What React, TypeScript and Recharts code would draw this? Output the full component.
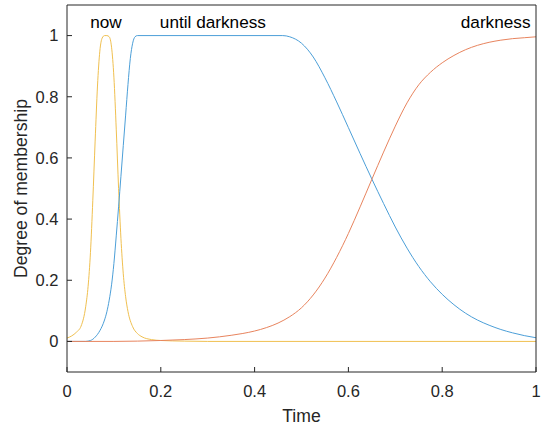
import { Label, Line, LineChart, ReferenceDot, XAxis, YAxis } from "recharts";

// membership functions
const nowX = [0, 0.01, 0.02, 0.03, 0.04, 0.045, 0.05, 0.055, 0.06, 0.065, 0.07, 0.075, 0.08, 0.085, 0.09, 0.095, 0.1, 0.105, 0.11, 0.115, 0.12, 0.125, 0.13, 0.14, 0.15, 0.16, 0.18, 0.2, 0.25, 0.3, 1];
const nowV = [0.011, 0.018, 0.03, 0.05, 0.115, 0.18, 0.29, 0.46, 0.655, 0.835, 0.949, 0.992, 1, 1, 0.996, 0.962, 0.864, 0.694, 0.5, 0.337, 0.221, 0.146, 0.098, 0.048, 0.026, 0.015, 0.006, 0.003, 0.001, 0, 0];

const untilX = [0, 0.04, 0.045, 0.05, 0.055, 0.06, 0.065, 0.07, 0.075, 0.08, 0.085, 0.09, 0.095, 0.1, 0.105, 0.11, 0.115, 0.12, 0.125, 0.13, 0.135, 0.14, 0.145, 0.15, 0.46, 0.475, 0.5, 0.525, 0.55, 0.575, 0.6, 0.625, 0.65, 0.675, 0.7, 0.725, 0.75, 0.775, 0.8, 0.825, 0.85, 0.875, 0.9, 0.925, 0.95, 0.975, 1];
const untilV = [0, 0, 0.001, 0.003, 0.007, 0.014, 0.023, 0.035, 0.05, 0.07, 0.097, 0.135, 0.185, 0.255, 0.345, 0.44, 0.54, 0.64, 0.74, 0.84, 0.925, 0.975, 0.996, 1, 1, 0.996, 0.975, 0.93, 0.862, 0.783, 0.699, 0.614, 0.531, 0.451, 0.374, 0.305, 0.245, 0.195, 0.154, 0.12, 0.092, 0.07, 0.053, 0.039, 0.028, 0.019, 0.012];

const darkX = [0, 0.1, 0.15, 0.2, 0.25, 0.3, 0.325, 0.35, 0.375, 0.4, 0.425, 0.45, 0.475, 0.5, 0.525, 0.55, 0.575, 0.6, 0.625, 0.65, 0.675, 0.7, 0.725, 0.75, 0.775, 0.8, 0.825, 0.85, 0.875, 0.9, 0.925, 0.95, 0.975, 1];
const darkV = [0, 0, 0.001, 0.003, 0.006, 0.011, 0.015, 0.02, 0.026, 0.034, 0.045, 0.06, 0.081, 0.11, 0.152, 0.207, 0.275, 0.353, 0.44, 0.53, 0.619, 0.704, 0.78, 0.839, 0.88, 0.911, 0.935, 0.954, 0.968, 0.978, 0.985, 0.99, 0.993, 0.996];

const mfNames = ["now", "until darkness", "darkness"];
const mfLabelX = [0.083, 0.311, 0.914];
const mfLabelY = 1.045;

const xTicks = [0, 0.2, 0.4, 0.6, 0.8, 1];
const yTicks = [0, 0.2, 0.4, 0.6, 0.8, 1];

const toRows = (xs: number[], vs: number[]) => xs.map((x, i) => ({ x, v: vs[i] }));

const nowData = toRows(nowX, nowV);
const untilData = toRows(untilX, untilV);
const darkData = toRows(darkX, darkV);

const FONT = '"Liberation Sans", Arial, Helvetica, sans-serif';
const AXIS = "#262626";

const YTitle = (props: any) => {
	const vb = props.viewBox;
	const cx = vb.x + 19.5;
	const cy = vb.y + vb.height / 2;
	return (
		<text
			x={cx}
			y={cy}
			transform={`rotate(-90 ${cx} ${cy})`}
			textAnchor="middle"
			fill={AXIS}
			fontSize={17.6}
			fontFamily={FONT}
		>
			Degree of membership
		</text>
	);
};

const XTitle = (props: any) => {
	const vb = props.viewBox;
	return (
		<text
			x={vb.x + vb.width / 2}
			y={vb.y + 49.5}
			textAnchor="middle"
			fill={AXIS}
			fontSize={17.6}
			fontFamily={FONT}
		>
			Time
		</text>
	);
};

const noLabel = () => "";

export default function App() {
	const tickStyle = { fill: AXIS, fontSize: 16.5, fontFamily: FONT };
	return (
		<div style={{ position: "absolute", left: 0, top: 0, width: 542, height: 428, background: "#fff" }}>
			<LineChart width={542} height={428} margin={{ top: 4, right: 5, bottom: 26, left: 7 }}>
				<XAxis
					xAxisId="x"
					type="number"
					dataKey="x"
					domain={[0, 1]}
					ticks={xTicks}
					interval={0}
					allowDataOverflow
					height={30}
					axisLine={{ stroke: AXIS }}
					tickLine={{ stroke: AXIS }}
					tickSize={-5}
					tickMargin={18}
					tick={tickStyle}
				>
					<Label content={XTitle} />
				</XAxis>
				<XAxis
					xAxisId="xt"
					orientation="top"
					type="number"
					dataKey="x"
					domain={[0, 1]}
					ticks={xTicks}
					interval={0}
					height={1}
					axisLine={{ stroke: AXIS }}
					tickLine={{ stroke: AXIS }}
					tickSize={-5}
					tickFormatter={noLabel}
				/>
				<YAxis
					yAxisId="y"
					type="number"
					domain={[-0.1, 1.1]}
					ticks={yTicks}
					interval={0}
					allowDataOverflow
					width={60}
					axisLine={{ stroke: AXIS }}
					tickLine={{ stroke: AXIS }}
					tickSize={-5}
					tickMargin={13.5}
					tick={tickStyle}
				>
					<Label content={YTitle} />
				</YAxis>
				<YAxis
					yAxisId="yr"
					orientation="right"
					type="number"
					domain={[-0.1, 1.1]}
					ticks={yTicks}
					interval={0}
					width={1}
					axisLine={{ stroke: AXIS }}
					tickLine={{ stroke: AXIS }}
					tickSize={-5}
					tickFormatter={noLabel}
				/>
				<Line
					xAxisId="x"
					yAxisId="y"
					data={nowData}
					dataKey="v"
					type="monotone"
					stroke="#F0C050"
					strokeWidth={1}
					dot={false}
					isAnimationActive={false}
				/>
				<Line
					xAxisId="x"
					yAxisId="y"
					data={untilData}
					dataKey="v"
					type="monotone"
					stroke="#4C9FD8"
					strokeWidth={1}
					dot={false}
					isAnimationActive={false}
				/>
				<Line
					xAxisId="x"
					yAxisId="y"
					data={darkData}
					dataKey="v"
					type="monotone"
					stroke="#E8845E"
					strokeWidth={1}
					dot={false}
					isAnimationActive={false}
				/>
				{mfNames.map((name, i) => (
					<ReferenceDot
						key={name}
						xAxisId="x"
						yAxisId="y"
						x={mfLabelX[i]}
						y={mfLabelY}
						r={1}
						fill="none"
						stroke="none"
						ifOverflow="visible"
					>
						<Label value={name} position="center" fill="#000" fontSize={17.2} fontFamily={FONT} />
					</ReferenceDot>
				))}
			</LineChart>
		</div>
	);
}
